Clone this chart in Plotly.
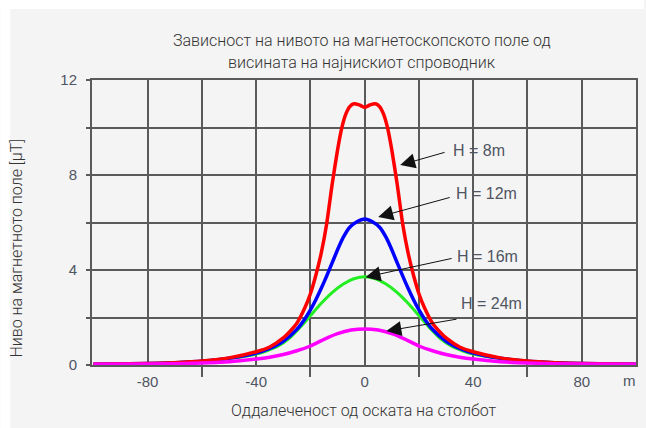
import plotly.graph_objects as go

# Magnetic field level vs. distance from the tower axis, for four conductor heights
x_h8 = [-100, -80, -70, -60, -50, -40, -35, -30, -28, -25, -22, -20, -18, -16, -14, -12, -10, -8.5, -7, -5.5, -4, -2, 0,
        2, 4, 5.5, 7, 8.5, 10, 12, 14, 16, 18, 20, 22, 25, 28, 30, 35, 40, 50, 60, 70, 80, 100]
y_h8 = [0.03, 0.06, 0.10, 0.17, 0.30, 0.56, 0.76, 1.14, 1.36, 1.76, 2.42, 3.00, 3.78, 4.72, 5.95, 7.60, 9.05, 9.95, 10.55, 10.88, 11.00, 10.95, 10.85,
        10.95, 11.00, 10.88, 10.55, 9.95, 9.05, 7.60, 5.95, 4.72, 3.78, 3.00, 2.42, 1.76, 1.36, 1.14, 0.76, 0.56, 0.30, 0.17, 0.10, 0.06, 0.03]

x_h12 = [-100, -80, -70, -60, -50, -40, -35, -30, -25, -22, -20, -18, -16, -14, -12, -10, -8, -5.5, -3, 0,
         3, 5.5, 8, 10, 12, 14, 16, 18, 20, 22, 25, 30, 35, 40, 50, 60, 70, 80, 100]
y_h12 = [0.03, 0.06, 0.10, 0.16, 0.28, 0.50, 0.70, 1.00, 1.50, 1.95, 2.32, 2.75, 3.23, 3.75, 4.30, 4.85, 5.35, 5.80, 6.02, 6.15,
         6.02, 5.80, 5.35, 4.85, 4.30, 3.75, 3.23, 2.75, 2.32, 1.95, 1.50, 1.00, 0.70, 0.50, 0.28, 0.16, 0.10, 0.06, 0.03]

x_h16 = [-100, -80, -70, -60, -50, -40, -36, -32, -28, -24, -20, -16, -12, -8, -4, 0,
         4, 8, 12, 16, 20, 24, 28, 32, 36, 40, 50, 60, 70, 80, 100]
y_h16 = [0.03, 0.06, 0.10, 0.15, 0.27, 0.46, 0.60, 0.79, 1.10, 1.56, 2.08, 2.60, 3.05, 3.40, 3.63, 3.72,
         3.63, 3.40, 3.05, 2.60, 2.08, 1.56, 1.10, 0.79, 0.60, 0.46, 0.27, 0.15, 0.10, 0.06, 0.03]

x_h24 = [-100, -80, -60, -50, -40, -35, -30, -25, -20, -15, -10, -5, 0,
         5, 10, 15, 20, 25, 30, 35, 40, 50, 60, 80, 100]
y_h24 = [0.03, 0.04, 0.08, 0.14, 0.25, 0.33, 0.44, 0.60, 0.80, 1.08, 1.32, 1.47, 1.52,
         1.47, 1.32, 1.08, 0.80, 0.60, 0.44, 0.33, 0.25, 0.14, 0.08, 0.04, 0.03]

series = [
    ("H = 16m", x_h16, y_h16, "#22ee22", 3),
    ("H = 12m", x_h12, y_h12, "#0000ff", 3.5),
    ("H = 8m", x_h8, y_h8, "#ff0000", 3.5),
    ("H = 24m", x_h24, y_h24, "#ff00ff", 3.5),
]

# Callout labels: (text, text x, text y, arrow tail x, tail y, arrow tip x, tip y)
callouts = [
    ("H = 8m", 31.8, 9.05, 30.0, 8.97, 13.1, 8.42),
    ("H = 12m", 33.0, 7.24, 31.9, 7.07, 5.0, 6.23),
    ("H = 16m", 33.3, 4.55, 32.6, 4.50, 0.3, 3.70),
    ("H = 24m", 34.8, 2.57, 34.4, 1.94, 8.0, 1.43),
]

x_ticks = [-80, -40, 0, 40, 80]
x_minor = [-60, -20, 20, 60]
y_ticks = [0, 4, 8, 12]
y_minor = [2, 6, 10]

title_lines = ["Зависност на нивото на магнетоскопското поле од",
               "висината на најнискиот спроводник"]
x_title = "Оддалеченост од оската на столбот"
y_title = "Ниво на магнетното поле [µT]"

BG = "#f4f4f4"
GRID = "#5a5a5a"
TICKFONT = dict(family="Liberation Sans, Arial, sans-serif", size=15, color="#4f5562")
LABELFONT = dict(family="Liberation Sans, Arial, sans-serif", size=16, color="#4f5562")
THIN = dict(family="Roboto, sans-serif", size=16, color="#333333", weight=300)

fig = go.Figure()
for name, xs, ys, color, w in series:
    fig.add_trace(go.Scatter(x=xs, y=ys, mode="lines", name=name,
                             line=dict(color=color, width=w, shape="spline", smoothing=0.6),
                             hoverinfo="skip"))

annotations = []
for text, tx, ty, ax, ay, px, py in callouts:
    annotations.append(dict(x=px, y=py, ax=ax, ay=ay, xref="x", yref="y", axref="x", ayref="y",
                            text="", showarrow=True, arrowhead=2, arrowsize=3, arrowwidth=1,
                            arrowcolor="#111111", standoff=0, startstandoff=0))
    annotations.append(dict(x=tx, y=ty, xref="x", yref="y", text=text, showarrow=False,
                            xanchor="left", yanchor="middle", font=LABELFONT))

annotations.append(dict(x=97.5, y=-0.056, xref="x", yref="paper", text="m", showarrow=False,
                        xanchor="center", yanchor="middle", font=TICKFONT))
annotations.append(dict(x=0.497, y=1.140, xref="paper", yref="paper", text=title_lines[0],
                        showarrow=False, xanchor="center", yanchor="middle", font=THIN))
annotations.append(dict(x=0.497, y=1.063, xref="paper", yref="paper", text=title_lines[1],
                        showarrow=False, xanchor="center", yanchor="middle", font=THIN))
annotations.append(dict(x=0.5, y=-0.158, xref="paper", yref="paper", text=x_title,
                        showarrow=False, xanchor="center", yanchor="middle", font=THIN))
annotations.append(dict(x=-0.139, y=0.41, xref="paper", yref="paper", text=y_title, textangle=-90,
                        showarrow=False, xanchor="center", yanchor="middle", font=THIN))

# white page edge around the grey panel
shapes = [
    dict(type="rect", xref="paper", yref="paper", x0=-0.1685, x1=1.0147, y0=1.2491, y1=1.2807,
         fillcolor="white", line=dict(width=0), layer="below"),
    dict(type="rect", xref="paper", yref="paper", x0=-0.1685, x1=-0.1502, y0=-0.221, y1=1.2807,
         fillcolor="white", line=dict(width=0), layer="below"),
]

fig.update_layout(
    width=646, height=428,
    margin=dict(l=92, r=8, t=80, b=63),
    paper_bgcolor=BG, plot_bgcolor=BG,
    showlegend=False,
    annotations=annotations,
    shapes=shapes,
    xaxis=dict(range=[-100.5, 100], tickvals=x_ticks, ticktext=[str(v) for v in x_ticks],
               ticks="outside", ticklen=0, tickfont=TICKFONT, ticklabelstandoff=2,
               showgrid=True, gridcolor=GRID, gridwidth=2, zeroline=False,
               showline=True, linecolor=GRID, linewidth=2, mirror=True,
               minor=dict(tickvals=x_minor, ticks="outside", ticklen=10, tickwidth=2, tickcolor=GRID,
                          showgrid=True, gridcolor=GRID, gridwidth=2)),
    yaxis=dict(range=[0, 12], tickvals=y_ticks, ticktext=[str(v) for v in y_ticks],
               ticks="outside", ticklen=4, tickwidth=2, tickcolor=GRID, tickfont=TICKFONT,
               ticklabelstandoff=6,
               showgrid=True, gridcolor=GRID, gridwidth=2, zeroline=False,
               showline=True, linecolor=GRID, linewidth=2, mirror=True,
               minor=dict(tickvals=y_minor, ticks="outside", ticklen=4, tickwidth=2, tickcolor=GRID,
                          showgrid=True, gridcolor=GRID, gridwidth=2)),
)

fig.write_html("out.html")
